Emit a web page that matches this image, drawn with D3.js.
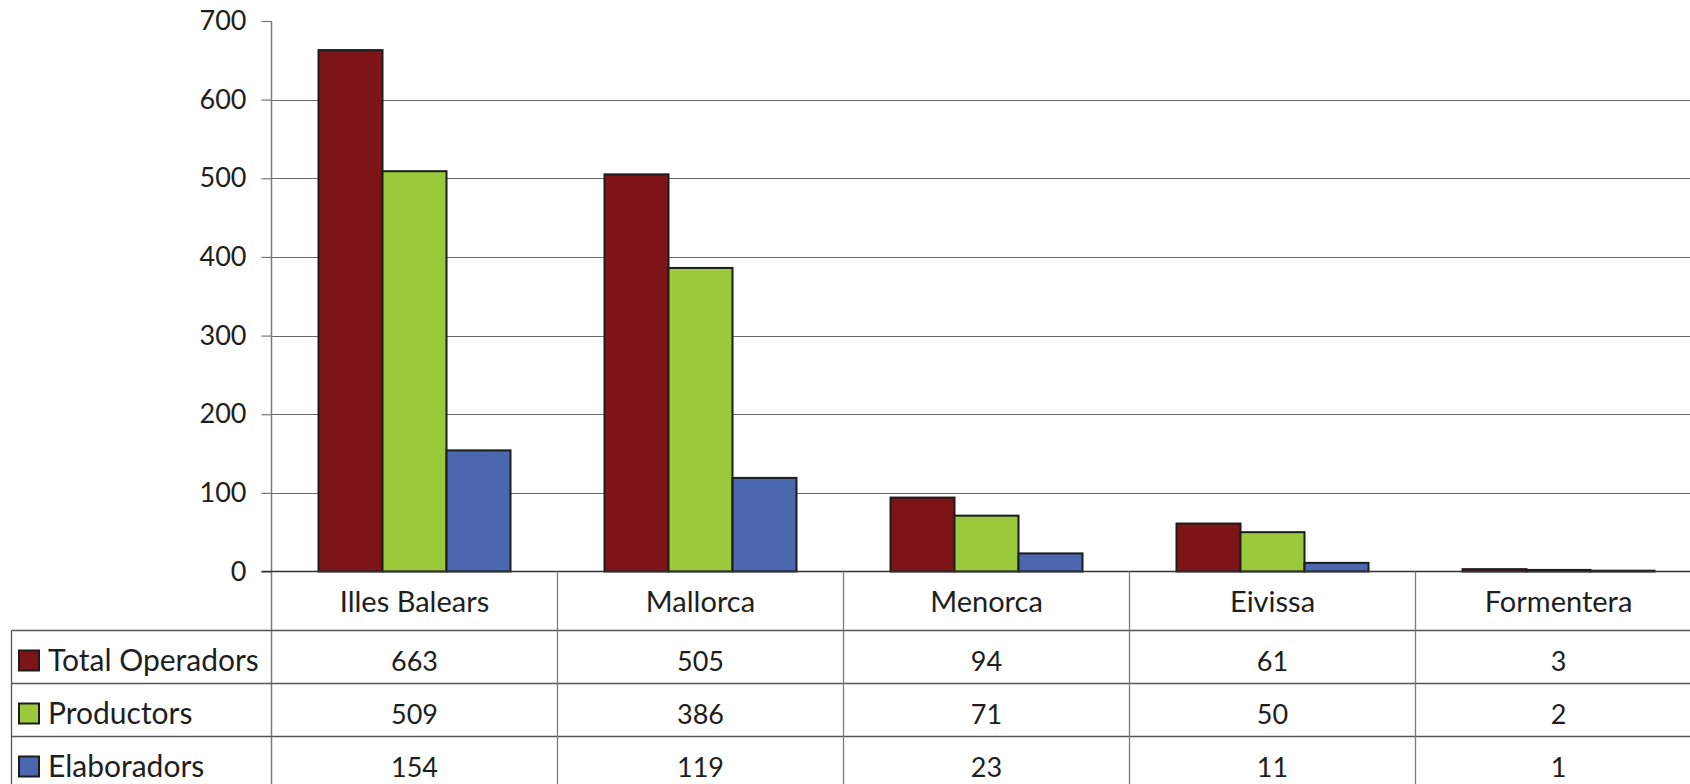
<!DOCTYPE html>
<html>
<head>
<meta charset="utf-8">
<script src="https://cdnjs.cloudflare.com/ajax/libs/d3/7.8.5/d3.min.js"></script>
<style>
  body { margin: 0; background: #fff; }
  svg text { font-family: Lato, "Open Sans", sans-serif; fill: #1e1e1e; }
</style>
</head>
<body>
<svg id="chart"></svg>
<script>
// chart values
var islands = ["Illes Balears", "Mallorca", "Menorca", "Eivissa", "Formentera"];
var seriesNames = ["Total Operadors", "Productors", "Elaboradors"];
var totalOperadors = [663, 505, 94, 61, 3];
var productors = [509, 386, 71, 50, 2];
var elaboradors = [154, 119, 23, 11, 1];
var yTicks = [0, 100, 200, 300, 400, 500, 600, 700];

var width = 1690;
var height = 784;

var plotLeft = 271.5;
var plotTop = 21;
var zeroY = 571.5;
var catWidth = 286;
var rowTop = [630.5, 683.5, 736.5];
var tableLeft = 11.5;

function colors1(key) {
    c = {};
    c["Total Operadors"] = "#7c1418";
    c["Productors"] = "#9aca3c";
    c["Elaboradors"] = "#4a67b0";
    return c[key];
}

var values = {};
values["Total Operadors"] = totalOperadors;
values["Productors"] = productors;
values["Elaboradors"] = elaboradors;

var svg = d3.select("#chart")
    .attr("width", width)
    .attr("height", height);

var x = d3.scaleBand()
    .domain(islands)
    .range([plotLeft, plotLeft + catWidth * islands.length]);

var x1 = d3.scaleBand()
    .domain(seriesNames)
    .range([47, catWidth - 47]);

var y = d3.scaleLinear()
    .domain([0, 700])
    .range([zeroY, plotTop]);

// gridlines (no line at the top value)
svg.append("g")
    .selectAll("line")
    .data(yTicks.filter(function(d) { return d > 0 && d < 700; }))
    .enter()
    .append("line")
    .attr("x1", plotLeft)
    .attr("x2", width)
    .attr("y1", function(d) { return Math.round(y(d)) + 0.5; })
    .attr("y2", function(d) { return Math.round(y(d)) + 0.5; })
    .attr("stroke", "#6a6a6a")
    .attr("stroke-width", 1.2);

// y axis
var yAxis = svg.append("g")
    .attr("transform", "translate(" + plotLeft + ",0)")
    .call(d3.axisLeft(y).tickValues(yTicks).tickSize(10).tickPadding(15));
yAxis.select(".domain").remove();
yAxis.selectAll(".tick line").attr("stroke", "#777").attr("stroke-width", 1.2);
yAxis.selectAll(".tick text")
    .style("font-size", "27px")
    .style("font-family", "Lato, sans-serif")
    .attr("fill", "#1e1e1e");

// vertical axis line, runs down through the table
svg.append("line")
    .attr("x1", plotLeft).attr("x2", plotLeft)
    .attr("y1", plotTop).attr("y2", height)
    .attr("stroke", "#7a7a7a")
    .attr("stroke-width", 1.5);

// bars
var groups = svg.selectAll(".island")
    .data(islands)
    .enter()
    .append("g")
    .attr("class", "island")
    .attr("transform", function(d) { return "translate(" + x(d) + ",0)"; });

groups.selectAll("rect")
    .data(function(d, i) {
        return seriesNames.map(function(s) { return { key: s, value: values[s][i] }; });
    })
    .enter()
    .append("rect")
    .attr("x", function(d) { return x1(d.key); })
    .attr("y", function(d) { return y(d.value); })
    .attr("width", x1.bandwidth())
    .attr("height", function(d) { return zeroY - y(d.value); })
    .attr("fill", function(d) { return colors1(d.key); })
    .attr("stroke", "#1c1c1c")
    .style("stroke-width", "2px");

// zero line
svg.append("line")
    .attr("x1", plotLeft - 10).attr("x2", width)
    .attr("y1", zeroY).attr("y2", zeroY)
    .attr("stroke", "#333")
    .attr("stroke-width", 1.5);

// data table: horizontal lines
svg.append("g")
    .selectAll("line")
    .data(rowTop)
    .enter()
    .append("line")
    .attr("x1", tableLeft)
    .attr("x2", width)
    .attr("y1", function(d) { return d; })
    .attr("y2", function(d) { return d; })
    .attr("stroke", "#555")
    .attr("stroke-width", 1.3);

// table left border
svg.append("line")
    .attr("x1", tableLeft).attr("x2", tableLeft)
    .attr("y1", rowTop[0]).attr("y2", height)
    .attr("stroke", "#555")
    .attr("stroke-width", 1.3);

// category separators
svg.append("g")
    .selectAll("line")
    .data(islands.slice(1))
    .enter()
    .append("line")
    .attr("x1", function(d) { return x(d); })
    .attr("x2", function(d) { return x(d); })
    .attr("y1", zeroY)
    .attr("y2", height)
    .attr("stroke", "#7a7a7a")
    .attr("stroke-width", 1.3);

// category labels
svg.append("g")
    .selectAll("text")
    .data(islands)
    .enter()
    .append("text")
    .attr("x", function(d) { return x(d) + catWidth / 2; })
    .attr("y", zeroY + 40)
    .attr("text-anchor", "middle")
    .style("font-size", "29px")
    .text(function(d) { return d; });

// table rows: legend key + values
seriesNames.forEach(function(s, r) {
    var top = rowTop[r];
    svg.append("rect")
        .attr("x", 19)
        .attr("y", top + 20)
        .attr("width", 20)
        .attr("height", 20)
        .attr("fill", colors1(s))
        .attr("stroke", "#1c1c1c")
        .style("stroke-width", "2px");

    svg.append("text")
        .attr("x", 48)
        .attr("y", top + 40)
        .style("font-size", "30px")
        .text(s);

    svg.append("g")
        .selectAll("text")
        .data(values[s])
        .enter()
        .append("text")
        .attr("x", function(d, i) { return x(islands[i]) + catWidth / 2; })
        .attr("y", top + 40)
        .attr("text-anchor", "middle")
        .style("font-size", "27px")
        .text(function(d) { return d; });
});
</script>
</body>
</html>
